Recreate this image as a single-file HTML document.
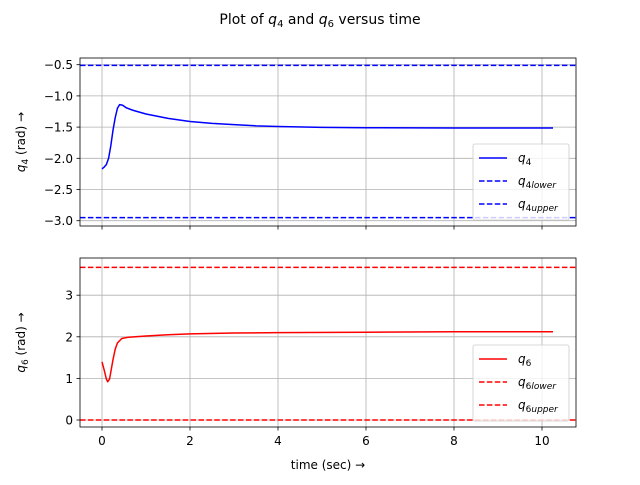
<!DOCTYPE html>
<html><head><meta charset="utf-8"><style>
body{margin:0;background:#fff}
svg{font-family:"DejaVu Sans","Liberation Sans",sans-serif}
</style></head><body>
<svg id="c" width="640" height="480" xmlns="http://www.w3.org/2000/svg">
<text x="320" y="24" font-size="14" text-anchor="middle">Plot of <tspan font-style="italic">q</tspan><tspan font-size="10" dy="3">4</tspan><tspan dy="-3"> and </tspan><tspan font-style="italic">q</tspan><tspan font-size="10" dy="3">6</tspan><tspan dy="-3"> versus time</tspan></text>
<g id="g"></g>
</svg>
<script>
const t4=[0,0.05,0.1,0.15,0.2,0.25,0.3,0.35,0.4,0.47,0.55,0.7,1,1.5,2,2.5,3,3.5,4,5,6,8,10.25];
const q4=[-2.17,-2.14,-2.1,-2.0,-1.8,-1.55,-1.35,-1.2,-1.14,-1.15,-1.19,-1.23,-1.29,-1.36,-1.41,-1.44,-1.46,-1.48,-1.49,-1.505,-1.51,-1.515,-1.515];
const q4lower=-0.51, q4upper=-2.95;
const t6=[0,0.05,0.1,0.13,0.17,0.2,0.25,0.3,0.35,0.45,0.6,1,1.5,2,3,4,6,8,10.25];
const q6=[1.4,1.2,0.98,0.92,0.98,1.15,1.45,1.7,1.85,1.96,1.99,2.02,2.05,2.07,2.09,2.1,2.11,2.12,2.12];
const q6lower=0, q6upper=3.67;
const xTicks=[0,2,4,6,8,10];
const y4Ticks=[-0.5,-1.0,-1.5,-2.0,-2.5,-3.0];
const y6Ticks=[0,1,2,3];
const NS='http://www.w3.org/2000/svg';
const g=document.getElementById('g');
function el(tag,a,p){const e=document.createElementNS(NS,tag);for(const k in a)e.setAttribute(k,a[k]);(p||g).appendChild(e);return e;}
const X=t=>102+44*t;
const L=80,R=576;
function panel(top,bot,Y,yt,fmt,t,q,lo,hi,col,sub,nm,showX){
  const p=el('g',{});
  
  
  xTicks.forEach(v=>{const l=el('line',{x1:X(v),x2:X(v),y1:top,y2:bot,stroke:'#b0b0b0','stroke-width':0.8},p);
    el('line',{x1:X(v),x2:X(v),y1:bot,y2:bot+3.5,stroke:'#000','stroke-width':0.8},p);
    if(showX){const tx=el('text',{x:X(v),y:bot+18,'font-size':12,'text-anchor':'middle'},p);tx.textContent=v;}});
  yt.forEach(v=>{const l=el('line',{x1:L,x2:R,y1:Y(v),y2:Y(v),stroke:'#b0b0b0','stroke-width':0.8},p);
    el('line',{x1:L-3.5,x2:L,y1:Y(v),y2:Y(v),stroke:'#000','stroke-width':0.8},p);
    const tx=el('text',{x:L-7,y:Y(v)+4.5,'font-size':12,'text-anchor':'end'},p);tx.textContent=fmt(v);});
  [lo,hi].forEach((v,i)=>{const l=el('line',{x1:L,x2:R,y1:Y(v),y2:Y(v),stroke:col,'stroke-width':1.5,'stroke-dasharray':'5.5,2.4'},p);});
  const ln=el('polyline',{points:t.map((v,i)=>X(v)+','+Y(q[i])).join(' '),fill:'none',stroke:col,'stroke-width':1.5,'stroke-linejoin':'round'},p);
  
  const fr=el('rect',{x:L,y:top,width:R-L,height:bot-top,fill:'none',stroke:'#000','stroke-width':0.8},p);
  
  const lg=el('g',{},p);
  const ly=bot-82;
  el('rect',{x:473,y:ly,width:96,height:76,rx:2,fill:'#fff','fill-opacity':0.8,stroke:'#ccc','stroke-width':0.8},lg);
  ['','lower','upper'].forEach((s,i)=>{const yy=ly+14+i*23;
    el('line',{x1:479,x2:507,y1:yy,y2:yy,stroke:col,'stroke-width':1.5,'stroke-dasharray':i?'5.5,2.4':'none'},lg);
    const tx=el('text',{x:518,y:yy+4,'font-size':12},lg);
    tx.innerHTML='<tspan font-style="italic">q</tspan><tspan font-size="9" dy="3">'+sub+(s?'<tspan font-style="italic">'+s+'</tspan>':'')+'</tspan>';});
  const yl=el('text',{transform:'translate(25,'+((top+bot)/2)+') rotate(-90)','font-size':12,'text-anchor':'middle'},p);
  
  yl.innerHTML='<tspan font-style="italic">q</tspan><tspan font-size="9" dy="3">'+sub+'</tspan><tspan dy="-3"> (rad) →</tspan>';
}
panel(58,226,v=>64.7+(-0.5-v)*62.4,y4Ticks,v=>v.toFixed(1).replace('-','−'),t4,q4,q4lower,q4upper,'#0000ff','4','q4',false);
panel(258,427,v=>420-41.6*v,y6Ticks,v=>String(v),t6,q6,q6lower,q6upper,'#ff0000','6','q6',true);
const xl=el('text',{x:328,y:469,'font-size':12,'text-anchor':'middle'});

xl.textContent='time (sec) →';
</script>
</body></html>
